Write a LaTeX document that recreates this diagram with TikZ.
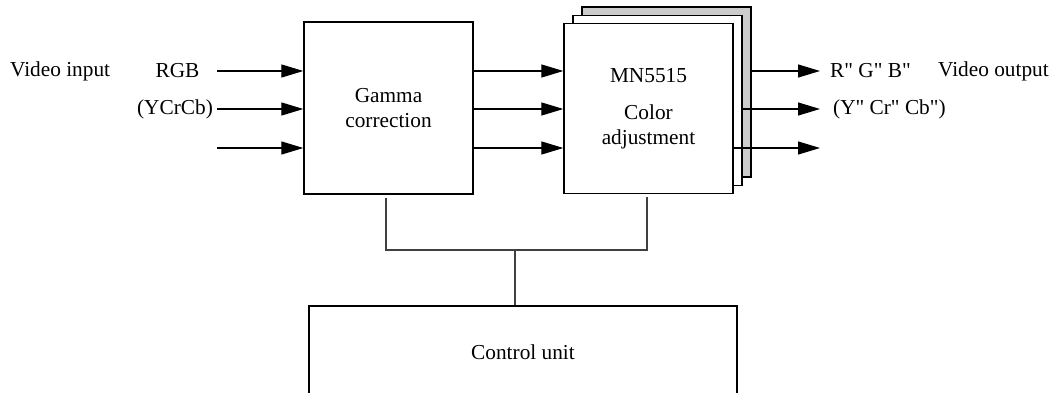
\documentclass[tikz,border=0pt]{standalone}
\usepackage{fontspec}
\setmainfont{Liberation Serif}
\newfontfamily\plainserif{Liberation Serif}
\usetikzlibrary{arrows.meta}
\tikzset{
  blk/.style={draw=black, line width=1.3pt, fill=white, rectangle, inner sep=0pt, align=center},
  sig/.style={line width=1.2pt, -{Triangle[length=22pt,width=13pt]}},
  wire/.style={line width=1.2pt, draw=black!75},
  lbl/.style={inner sep=0pt}
}
\begin{document}
\begin{tikzpicture}[x=1pt,y=-1pt, font=\fontsize{21.3}{25}\selectfont]
\clip (0,0) rectangle (1057,393);
\fill[white] (0,0) rectangle (1057,393);
% Gamma correction
\node[blk, minimum width=169pt, minimum height=172pt] (gam) at (388.5,108) {Gamma\\correction};
% colour adjustment stack
\node[blk, fill=black!20, minimum width=169pt, minimum height=170pt] (cb3) at (666.5,92) {};
\node[blk, minimum width=169pt, minimum height=170pt] (cb2) at (657.5,100.5) {};
\node[blk, minimum width=169pt, minimum height=170pt] (cb1) at (648.5,108.5) {MN5515\\[12pt]Color\\adjustment};
% control unit
\node[blk, minimum width=428pt, minimum height=92pt] (ctl) at (523,352) {Control unit};
% inputs
\coordinate (i1) at (217,71);
\coordinate (i2) at (217,109);
\coordinate (i3) at (217,148);
\draw[sig] (i1) -- (i1 -| gam.west);
\draw[sig] (i2) -- (i2 -| gam.west);
\draw[sig] (i3) -- (i3 -| gam.west);
\node[lbl, anchor=west] (vin) at (10,71) {Video input};
\node[lbl] (rgb) at (177.5,71) {RGB};
\node[lbl] (ycc) at (175,109) {(YCrCb)};
% middle
\draw[sig] (gam.east |- i1) -- (cb1.west |- i1);
\draw[sig] (gam.east |- i2) -- (cb1.west |- i2);
\draw[sig] (gam.east |- i3) -- (cb1.west |- i3);
% outputs
\coordinate (o1) at (820,71);
\coordinate (o2) at (820,109);
\coordinate (o3) at (820,148);
\draw[sig] (cb3.east |- o1) -- (o1);
\draw[sig] (cb2.east |- o2) -- (o2);
\draw[sig] (cb1.east |- o3) -- (o3);
\node[lbl, anchor=west] (rgbo) at (830,71) {\plainserif R" G" B"};
\node[lbl, anchor=west] (vout) at (938,71) {Video output};
\node[lbl, anchor=west] (ycco) at (833,109) {\plainserif (Y" Cr" Cb")};
% control bus
\coordinate (bus) at (515,250);
\draw[wire] ([yshift=-3pt]gam.south -| 386,0) |- (bus);
\draw[wire] ([yshift=-3pt]cb1.south -| 647,0) |- (bus);
\draw[wire] (bus) -- (bus |- ctl.north);
\end{tikzpicture}
\end{document}
